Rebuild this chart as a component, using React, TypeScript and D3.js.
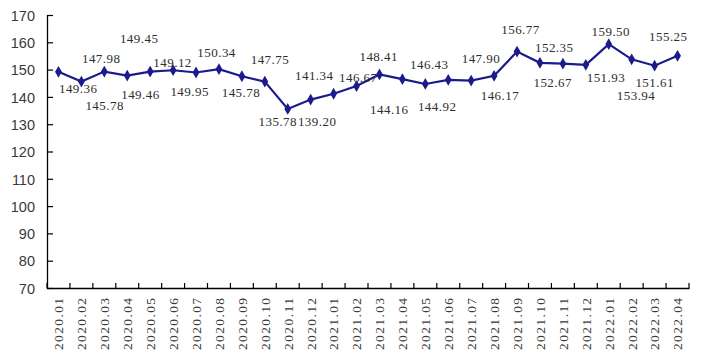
import React from 'react';
import * as d3 from 'd3';

const months = [
  '2020.01', '2020.02', '2020.03', '2020.04', '2020.05', '2020.06', '2020.07',
  '2020.08', '2020.09', '2020.10', '2020.11', '2020.12', '2021.01', '2021.02',
  '2021.03', '2021.04', '2021.05', '2021.06', '2021.07', '2021.08', '2021.09',
  '2021.10', '2021.11', '2021.12', '2022.01', '2022.02', '2022.03', '2022.04',
];

const values = [
  149.36, 145.78, 149.45, 147.98, 149.46, 149.95, 149.12,
  150.34, 147.75, 145.78, 135.78, 139.2, 141.34, 144.16,
  148.41, 146.67, 144.92, 146.43, 146.17, 147.9, 156.77,
  152.67, 152.35, 151.93, 159.5, 153.94, 151.61, 155.25,
];

const yTicks = [70, 80, 90, 100, 110, 120, 130, 140, 150, 160, 170];

// where each value label sits relative to its point (dx, dy to baseline)
const labelOffsets: [number, number][] = [
  [19.5, 21.2], [23, 28.4], [34.6, -28.3], [-26.3, -12.9], [-10, 27.7], [16.3, 25.8], [-23.7, -5.8],
  [-2.6, -12.5], [27.8, -12.2], [-24.1, 15.1], [-10.2, 17.1], [6.2, 26.4], [-19.6, -13.7], [32.5, 28.3],
  [-1, -13.4], [-44.4, 2.5], [11.6, 27], [-19.2, -10.5], [28.5, 19.4], [-13.4, -13.1], [3.2, -17.6],
  [12.5, 24.5], [-8.9, -11.4], [19.9, 17.5], [1.8, -8.2], [4.1, 40.7], [-0.2, 21.6], [-9.5, -15.1],
];

const W = 703;
const H = 358;
const LINE = '#1b1b8c';
const LABEL_FONT = "'Liberation Serif', 'DejaVu Serif', serif";

const App: React.FC = () => {
  const x = d3.scaleBand<string>().domain(months).range([47, 689]);
  const y = d3.scaleLinear().domain([70, 170]).range([288.5, 15.5]);
  const cx = (m: string) => (x(m) ?? 0) + x.bandwidth() / 2;

  const line = d3.line<number>()
    .x((_, i) => cx(months[i]))
    .y((d) => y(d));

  const diamond = d3.symbol().type(d3.symbolDiamond).size(40)() ?? '';

  const bounds = months.map((m) => x(m) ?? 0).concat([689]);

  return (
    <div style={{ position: 'absolute', left: 0, top: 0 }}>
      <svg width={W} height={H} style={{ display: 'block', background: '#fff' }}>
        {/* axes */}
        <line x1={47.5} x2={47.5} y1={15} y2={288.5} stroke="#000" strokeWidth={1.3} />
        <line x1={47} x2={689.5} y1={288.5} y2={288.5} stroke="#000" strokeWidth={1.3} />
        {yTicks.map((t) => (
          <g key={t}>
            <line x1={47.5} x2={53} y1={y(t)} y2={y(t)} stroke="#000" strokeWidth={1.2} />
            <text
              x={35}
              y={y(t)}
              dy="0.36em"
              textAnchor="end"
              fontFamily="'Liberation Sans', Arial, sans-serif"
              fontSize={14.5}
              fill="#3a3a3a"
            >
              {t}
            </text>
          </g>
        ))}
        {bounds.map((b, i) => (
          <line key={i} x1={b} x2={b} y1={288.5} y2={283} stroke="#000" strokeWidth={1.2} />
        ))}
        {months.map((m) => (
          <text
            key={m}
            transform={`translate(${cx(m)},298) rotate(-90)`}
            dy="0.36em"
            textAnchor="end"
            fontFamily={LABEL_FONT}
            fontSize={13.5}
            textLength={52}
            lengthAdjust="spacing"
            fill="#3a3a3a"
          >
            {m}
          </text>
        ))}

        {/* series */}
        <path d={line(values) ?? ''} fill="none" stroke={LINE} strokeWidth={2.2} />
        {values.map((v, i) => (
          <path key={i} d={diamond} transform={`translate(${cx(months[i])},${y(v)})`} fill={LINE} />
        ))}
        {values.map((v, i) => (
          <text
            key={`l${i}`}
            x={cx(months[i]) + labelOffsets[i][0]}
            y={y(v) + labelOffsets[i][1]}
            textAnchor="middle"
            fontFamily={LABEL_FONT}
            fontSize={13}
            textLength={38}
            lengthAdjust="spacing"
            fill="#2e2e2e"
          >
            {v.toFixed(2)}
          </text>
        ))}
      </svg>
    </div>
  );
};

export default App;
